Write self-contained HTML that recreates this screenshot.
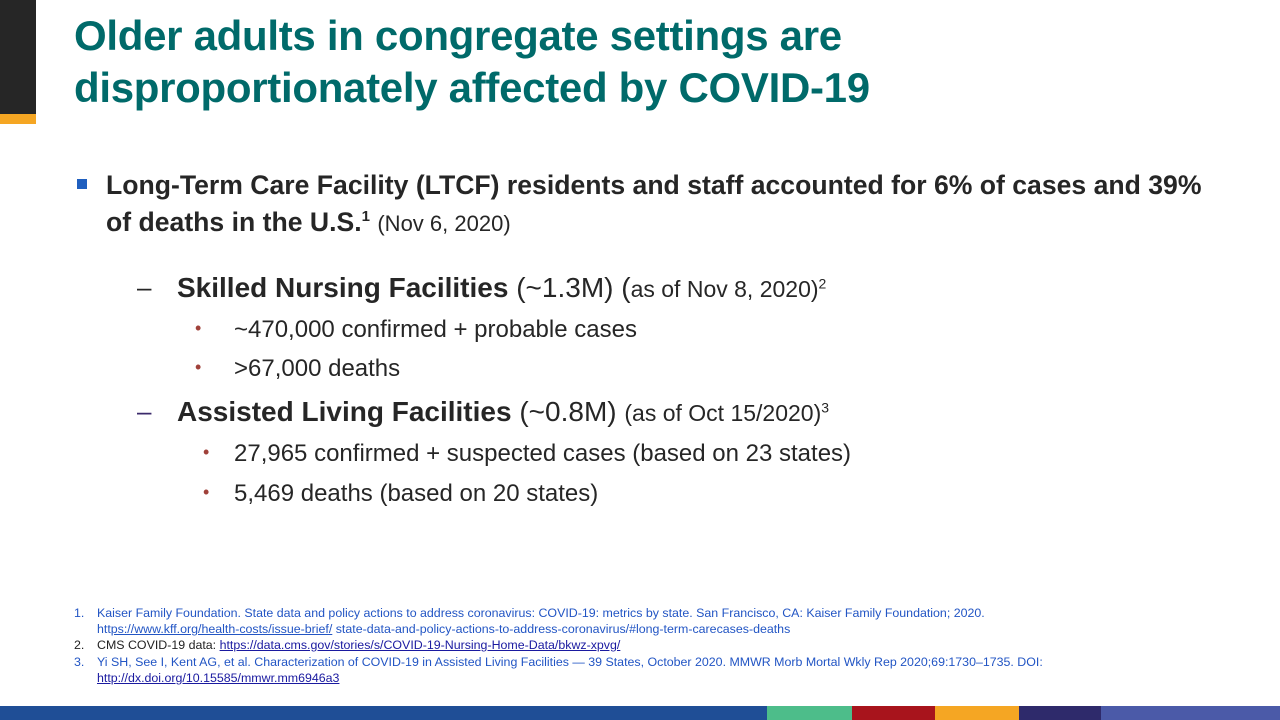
<!DOCTYPE html>
<html><head><meta charset="utf-8"><style>
body{margin:0;width:1280px;height:720px;position:relative;background:#fff;overflow:hidden;font-family:"Liberation Sans",sans-serif;}
.a{position:absolute;white-space:nowrap;line-height:1.15}
.t{color:#006a6a;font-weight:bold;font-size:42px;left:74px;letter-spacing:-0.3px}
.b{color:#262626;font-size:24px;}
.bb{font-weight:bold;}
.f{font-size:12.4px;color:#2255c4;}
.f a{color:#2255c4;text-decoration:underline}
</style></head><body>
<div class="a" style="left:0;top:0;width:36px;height:114px;background:#262626"></div>
<div class="a" style="left:0;top:114px;width:36px;height:10px;background:#f5a623"></div>
<div class="a t" style="top:12px">Older adults in congregate settings are</div>
<div class="a t" style="top:64px">disproportionately affected by COVID-19</div>

<div class="a" style="left:77px;top:179px;width:10px;height:10px;background:#1f5fbf"></div>
<div class="a b bb" style="left:106px;top:170px;font-size:26.6px">Long-Term Care Facility (LTCF) residents and staff accounted for 6% of cases and 39%</div>
<div class="a b" style="left:106px;top:207px;font-size:26.6px"><b>of deaths in the U.S.<sup style="font-size:15px">1</sup></b> <span style="font-size:22px">(Nov 6, 2020)</span></div>

<div class="a b" style="left:137px;top:273px;font-size:26px">–</div>
<div class="a b" style="left:177px;top:272px;font-size:28px"><b>Skilled Nursing Facilities</b> (~1.3M) (<span style="font-size:23px">as of Nov 8, 2020)<sup style="font-size:14px">2</sup></span></div>
<div class="a" style="left:195px;top:318px;color:#a0413a;font-size:18px">•</div>
<div class="a b" style="left:234px;top:316px">~470,000 confirmed + probable cases</div>
<div class="a" style="left:195px;top:357px;color:#a0413a;font-size:18px">•</div>
<div class="a b" style="left:234px;top:355px">&gt;67,000 deaths</div>

<div class="a b" style="left:137px;top:397px;font-size:26px;color:#3b2a6b">–</div>
<div class="a b" style="left:177px;top:396px;font-size:28px"><b>Assisted Living Facilities</b> (~0.8M) <span style="font-size:23px">(as of Oct 15/2020)<sup style="font-size:14px">3</sup></span></div>
<div class="a" style="left:203px;top:442px;color:#a0413a;font-size:18px">•</div>
<div class="a b" style="left:234px;top:440px">27,965 confirmed + suspected cases (based on 23 states)</div>
<div class="a" style="left:203px;top:482px;color:#a0413a;font-size:18px">•</div>
<div class="a b" style="left:234px;top:480px">5,469 deaths (based on 20 states)</div>

<div class="a f" style="left:74px;top:606px">1.</div>
<div class="a f" style="left:97px;top:606px">Kaiser Family Foundation. State data and policy actions to address coronavirus: COVID-19: metrics by state. San Francisco, CA: Kaiser Family Foundation; 2020.</div>
<div class="a f" style="left:97px;top:622px">htt<a>ps://www.kff.org/health-costs/issue-brief/</a> state-data-and-policy-actions-to-address-coronavirus/#long-term-carecases-deaths</div>
<div class="a f" style="left:74px;top:638px;color:#222">2.</div>
<div class="a f" style="left:97px;top:638px;color:#222">CMS COVID-19 data: <a style="color:#1a1aa0">https://data.cms.gov/stories/s/COVID-19-Nursing-Home-Data/bkwz-xpvg/</a></div>
<div class="a f" style="left:74px;top:655px">3.</div>
<div class="a f" style="left:97px;top:655px">Yi SH, See I, Kent AG, et al. Characterization of COVID-19 in Assisted Living Facilities — 39 States, October 2020. MMWR Morb Mortal Wkly Rep 2020;69:1730–1735. DOI:</div>
<div class="a f" style="left:97px;top:671px"><a style="color:#1a1aa0">http://dx.doi.org/10.15585/mmwr.mm6946a3</a></div>

<div class="a" style="left:0;top:706px;width:767px;height:14px;background:#1f4e96"></div>
<div class="a" style="left:767px;top:706px;width:85px;height:14px;background:#4dbd8a"></div>
<div class="a" style="left:852px;top:706px;width:83px;height:14px;background:#a8141c"></div>
<div class="a" style="left:935px;top:706px;width:84px;height:14px;background:#f5a623"></div>
<div class="a" style="left:1019px;top:706px;width:82px;height:14px;background:#2e2a6b"></div>
<div class="a" style="left:1101px;top:706px;width:179px;height:14px;background:#4b5aa8"></div>
</body></html>
